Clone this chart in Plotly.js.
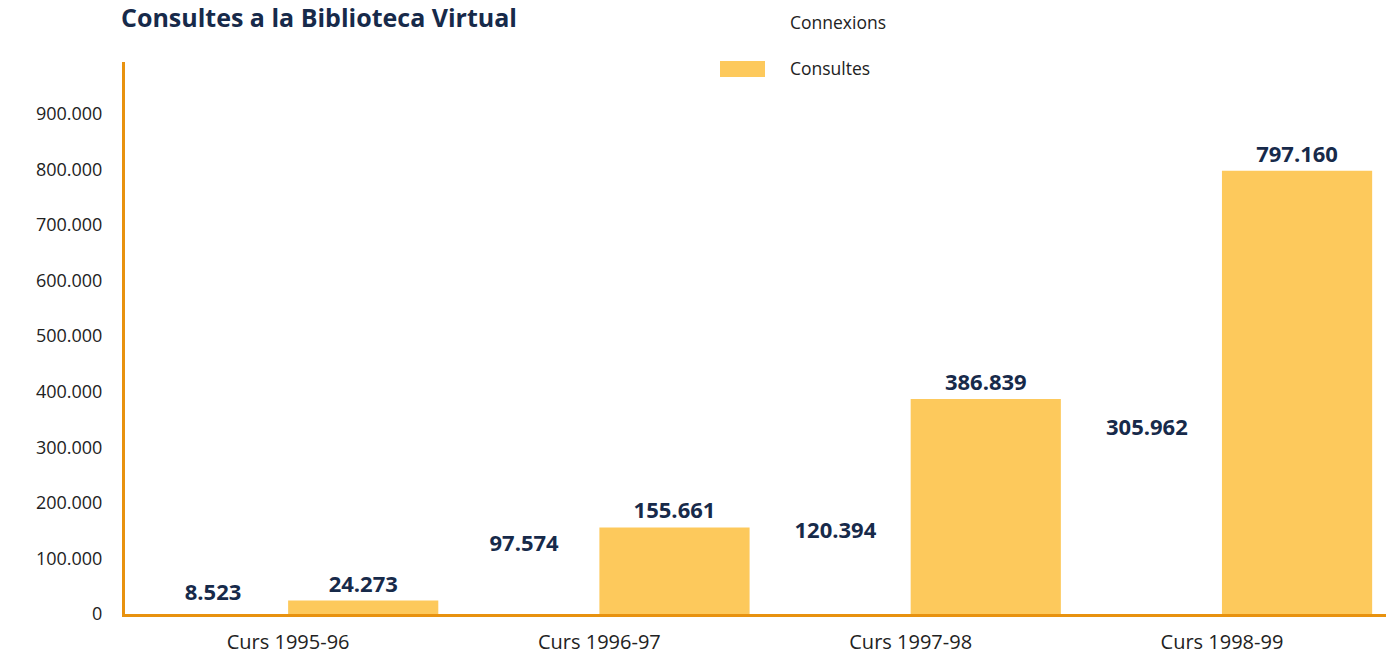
<!DOCTYPE html>
<html>
<head>
<meta charset="utf-8">
<script src="https://cdn.plot.ly/plotly-3.0.1.min.js"></script>
<style>html,body{margin:0;padding:0;background:#fff;}#chart{width:1386px;height:659px;}</style>
</head>
<body>
<div id="chart"></div>
<script>
const categories = ["Curs 1995-96", "Curs 1996-97", "Curs 1997-98", "Curs 1998-99"];
const seriesNames = ["Connexions", "Consultes"];
const connexions = [8523, 97574, 120394, 305962];
const consultes = [24273, 155661, 386839, 797160];
const yTicks = [0, 100000, 200000, 300000, 400000, 500000, 600000, 700000, 800000, 900000];

const navy = "#172a4a";
const barColor = "#fdc95c";
const axisColor = "#e8920f";
const fontFamily = "'Open Sans', 'Noto Sans', sans-serif";

const traces = [
  {
    type: "bar", name: seriesNames[0], x: categories, y: connexions,
    marker: {color: "rgba(255,255,255,0)"},
    texttemplate: "%{y:,.0f}", textposition: "outside", cliponaxis: false,
    textfont: {family: fontFamily, size: 22, color: navy, weight: 700},
    hoverinfo: "x+y", showlegend: false
  },
  {
    type: "bar", name: seriesNames[1], x: categories, y: consultes,
    marker: {color: barColor},
    texttemplate: "%{y:,.0f}", textposition: "outside", cliponaxis: false,
    textfont: {family: fontFamily, size: 22, color: navy, weight: 700},
    hoverinfo: "x+y", showlegend: false
  }
];

const layout = {
  width: 1386, height: 659,
  paper_bgcolor: "#ffffff", plot_bgcolor: "#ffffff",
  separators: ",.",
  margin: {l: 125, r: 0, t: 62, b: 45, pad: 0},
  font: {family: fontFamily, color: "#222222"},
  title: {
    text: "<b>Consultes a la Biblioteca Virtual</b>",
    x: 121/1386, xref: "container", xanchor: "left",
    y: 1 - 18/659, yref: "container", yanchor: "middle",
    font: {family: fontFamily, size: 25, color: navy}
  },
  barmode: "group", bargap: 0.035, bargroupgap: 0,
  xaxis: {
    type: "category", range: [-0.524, 3.527],
    showline: true, linecolor: axisColor, linewidth: 3,
    ticks: "", showgrid: false, zeroline: false,
    tickfont: {family: fontFamily, size: 20, color: "#222222"},
    ticklabelstandoff: 8
  },
  yaxis: {
    range: [0, 993000], showline: true, linecolor: axisColor, linewidth: 3,
    ticks: "", showgrid: false, zeroline: false,
    tickvals: yTicks, tickformat: ",.0f",
    tickfont: {family: fontFamily, size: 18, color: "#222222"},
    ticklabelstandoff: 16
  },
  shapes: [
    {type: "rect", xref: "paper", yref: "paper",
     x0: (720-125)/1261, x1: (765-125)/1261, y0: (614-77)/552, y1: (614-61)/552,
     fillcolor: barColor, line: {width: 0}}
  ],
  annotations: [
    {text: seriesNames[0], xref: "paper", yref: "paper", x: (788-125)/1261, y: (614-22)/552,
     xanchor: "left", yanchor: "middle", showarrow: false,
     font: {family: fontFamily, size: 17.5, color: "#222222"}},
    {text: seriesNames[1], xref: "paper", yref: "paper", x: (788-125)/1261, y: (614-68)/552,
     xanchor: "left", yanchor: "middle", showarrow: false,
     font: {family: fontFamily, size: 17.5, color: "#222222"}}
  ]
};

Plotly.newPlot("chart", traces, layout, {displayModeBar: false, staticPlot: true});
</script>
</body>
</html>
